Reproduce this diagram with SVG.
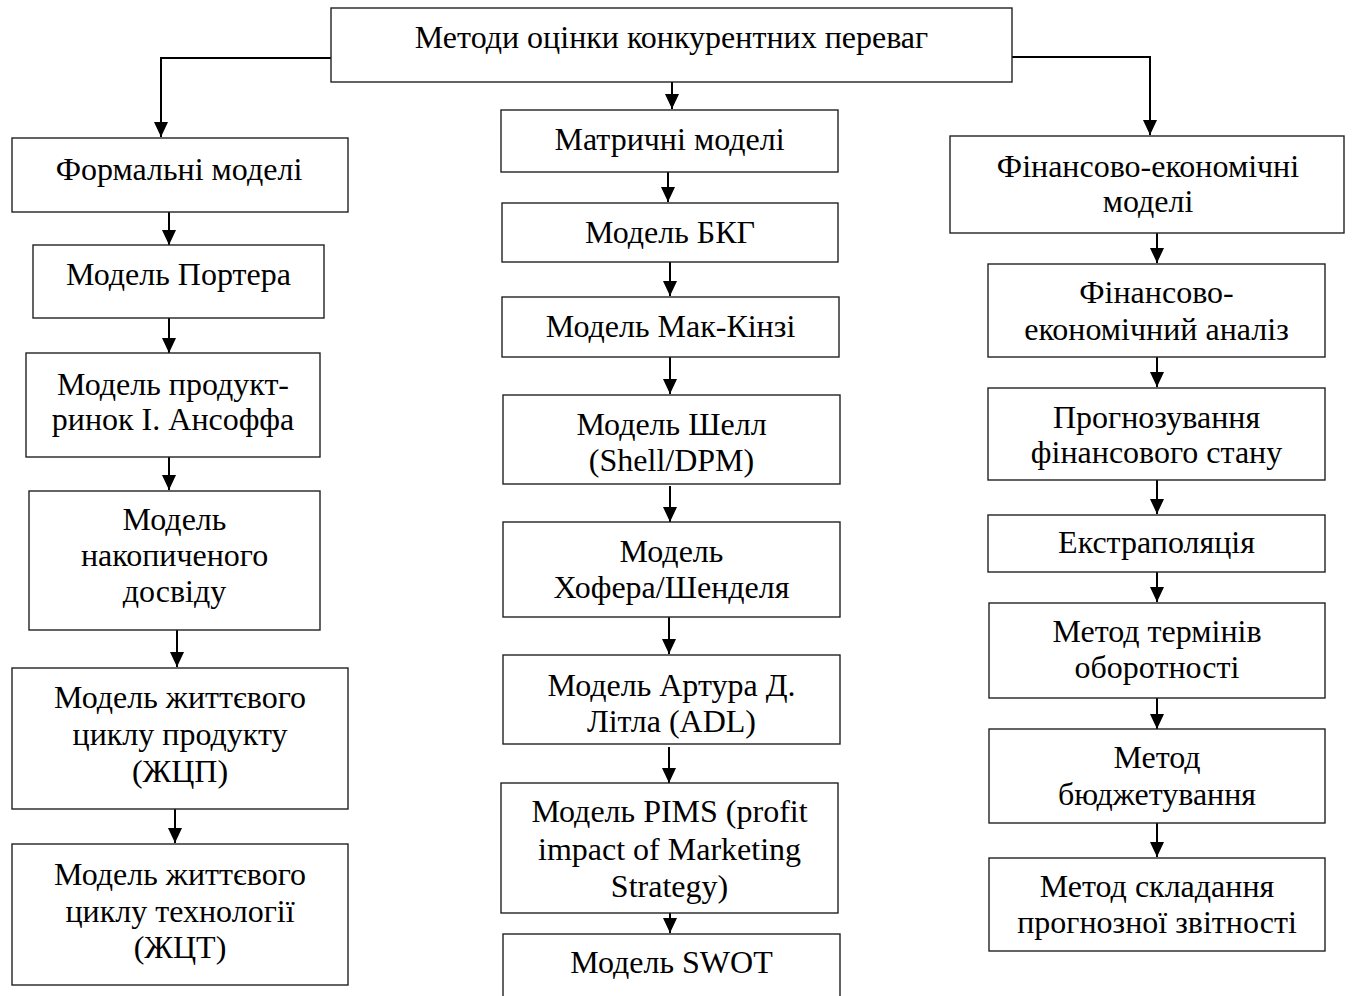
<svg xmlns="http://www.w3.org/2000/svg" width="1352" height="996" viewBox="0 0 1352 996">
<style>
.box{fill:#fff;stroke:#222;stroke-width:1.4}
.t{font-family:"Liberation Serif","Times New Roman",serif;font-size:32px;fill:#000;text-anchor:middle}
.c{fill:none;stroke:#000;stroke-width:2}
</style>
<defs>
<marker id="ah" markerUnits="userSpaceOnUse" markerWidth="16" markerHeight="16" refX="15" refY="7" orient="auto">
<path d="M0,0 L15,7 L0,14 z" fill="#000"/>
</marker>
</defs>
<rect width="1352" height="996" fill="#fff"/>
<g id="connectors">
<path class="c" d="M331,58 H161 V137" marker-end="url(#ah)"/>
<path class="c" d="M672,82 V109" marker-end="url(#ah)"/>
<path class="c" d="M1012,57 H1150 V135" marker-end="url(#ah)"/>
<path class="c" d="M169,212 V245" marker-end="url(#ah)"/>
<path class="c" d="M169,318 V353" marker-end="url(#ah)"/>
<path class="c" d="M169,457 V490" marker-end="url(#ah)"/>
<path class="c" d="M177,630 V667" marker-end="url(#ah)"/>
<path class="c" d="M175,809 V843" marker-end="url(#ah)"/>
<path class="c" d="M668,162 V202" marker-end="url(#ah)"/>
<path class="c" d="M670,259 V296" marker-end="url(#ah)"/>
<path class="c" d="M670,357 V394" marker-end="url(#ah)"/>
<path class="c" d="M670,486 V522" marker-end="url(#ah)"/>
<path class="c" d="M669,617 V654" marker-end="url(#ah)"/>
<path class="c" d="M669,747 V783" marker-end="url(#ah)"/>
<path class="c" d="M670,906 V933" marker-end="url(#ah)"/>
<path class="c" d="M1157,233 V263" marker-end="url(#ah)"/>
<path class="c" d="M1157,357 V387" marker-end="url(#ah)"/>
<path class="c" d="M1157,480 V514" marker-end="url(#ah)"/>
<path class="c" d="M1157,572 V602" marker-end="url(#ah)"/>
<path class="c" d="M1157,698 V729" marker-end="url(#ah)"/>
<path class="c" d="M1157,823 V857" marker-end="url(#ah)"/>
</g>
<g id="n-top"><rect class="box" x="331" y="8" width="681" height="74"/><text class="t" x="671.5" y="48">Методи оцінки конкурентних переваг</text></g>
<g id="n-formal"><rect class="box" x="12" y="138" width="336" height="74"/><text class="t" x="179" y="180">Формальні моделі</text></g>
<g id="n-porter"><rect class="box" x="33" y="245" width="291" height="73"/><text class="t" x="178.5" y="285">Модель Портера</text></g>
<g id="n-ansoff"><rect class="box" x="26" y="353" width="294" height="104"/><text class="t" x="173" y="395">Модель продукт-</text><text class="t" x="173" y="430">ринок І. Ансоффа</text></g>
<g id="n-nakop"><rect class="box" x="29" y="491" width="291" height="139"/><text class="t" x="174.5" y="530">Модель</text><text class="t" x="174.5" y="566">накопиченого</text><text class="t" x="174.5" y="602">досвіду</text></g>
<g id="n-zhcp"><rect class="box" x="12" y="668" width="336" height="141"/><text class="t" x="180" y="708">Модель життєвого</text><text class="t" x="180" y="745">циклу продукту</text><text class="t" x="180" y="782">(ЖЦП)</text></g>
<g id="n-zhct"><rect class="box" x="12" y="844" width="336" height="141"/><text class="t" x="180" y="885">Модель життєвого</text><text class="t" x="180" y="922">циклу технології</text><text class="t" x="180" y="958">(ЖЦТ)</text></g>
<g id="n-matrix"><rect class="box" x="501" y="110" width="337" height="62"/><text class="t" x="669.5" y="150">Матричні моделі</text></g>
<g id="n-bkg"><rect class="box" x="502" y="203" width="336" height="59"/><text class="t" x="670" y="243">Модель БКГ</text></g>
<g id="n-mck"><rect class="box" x="502" y="297" width="337" height="60"/><text class="t" x="670.5" y="337">Модель Мак-Кінзі</text></g>
<g id="n-shell"><rect class="box" x="503" y="395" width="337" height="89"/><text class="t" x="671.5" y="435">Модель Шелл</text><text class="t" x="671.5" y="471">(Shell/DPM)</text></g>
<g id="n-hofer"><rect class="box" x="503" y="522" width="337" height="95"/><text class="t" x="671.5" y="562">Модель</text><text class="t" x="671.5" y="598">Хофера/Шенделя</text></g>
<g id="n-adl"><rect class="box" x="503" y="655" width="337" height="89"/><text class="t" x="671.5" y="696">Модель Артура Д.</text><text class="t" x="671.5" y="732">Літла (ADL)</text></g>
<g id="n-pims"><rect class="box" x="501" y="783" width="337" height="130"/><text class="t" x="669.5" y="822">Модель PIMS (profit</text><text class="t" x="669.5" y="860">impact of Marketing</text><text class="t" x="669.5" y="897">Strategy)</text></g>
<g id="n-swot"><rect class="box" x="503" y="934" width="337" height="70"/><text class="t" x="671.5" y="973">Модель SWOT</text></g>
<g id="n-finecon"><rect class="box" x="950" y="136" width="394" height="97"/><text class="t" x="1148" y="177">Фінансово-економічні</text><text class="t" x="1148" y="212">моделі</text></g>
<g id="n-finan"><rect class="box" x="988" y="264" width="337" height="93"/><text class="t" x="1156.5" y="303">Фінансово-</text><text class="t" x="1156.5" y="340">економічний аналіз</text></g>
<g id="n-progn"><rect class="box" x="988" y="388" width="337" height="92"/><text class="t" x="1156.5" y="428">Прогнозування</text><text class="t" x="1156.5" y="463">фінансового стану</text></g>
<g id="n-extrap"><rect class="box" x="988" y="515" width="337" height="57"/><text class="t" x="1156.5" y="553">Екстраполяція</text></g>
<g id="n-termin"><rect class="box" x="989" y="603" width="336" height="95"/><text class="t" x="1157" y="642">Метод термінів</text><text class="t" x="1157" y="678">оборотності</text></g>
<g id="n-budget"><rect class="box" x="989" y="729" width="336" height="94"/><text class="t" x="1157" y="768">Метод</text><text class="t" x="1157" y="805">бюджетування</text></g>
<g id="n-sklad"><rect class="box" x="989" y="858" width="336" height="93"/><text class="t" x="1157" y="897">Метод складання</text><text class="t" x="1157" y="933">прогнозної звітності</text></g>
</svg>
